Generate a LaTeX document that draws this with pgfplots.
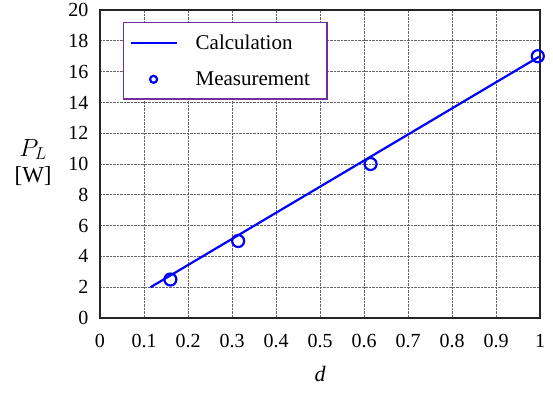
\documentclass[border=0pt]{standalone}
\usepackage{fontspec}
\setmainfont{Liberation Serif}
\usepackage{pgfplots}
\pgfplotsset{compat=1.18}
\definecolor{legpurple}{RGB}{112,48,160}
\pgfplotsset{
  linelegend/.style={legend image code/.code={\draw[##1] (0pt,0pt) -- (46pt,0pt);}},
  marklegend/.style={legend image code/.code={\draw[mark repeat=2,mark phase=2,##1,mark size=3.5pt] plot coordinates {(0pt,0pt) (23pt,0pt) (46pt,0pt)};}},
}
\begin{document}
\begin{tikzpicture}
\begin{axis}[
  scale only axis,
  width=440pt, height=308pt,
  xmin=0, xmax=1, ymin=0, ymax=20,
  xtick={0,0.1,...,1.0},
  xticklabels={0,0.1,0.2,0.3,0.4,0.5,0.6,0.7,0.8,0.9,1},
  ytick={0,2,...,20},
  yticklabels={0,2,4,6,8,10,12,14,16,18,20},
  tick style={draw=none},
  ticklabel style={font=\rmfamily\fontsize{20}{24}\selectfont},
  xticklabel style={yshift=-13pt},
  yticklabel style={xshift=-8pt},
  grid=major,
  grid style={densely dotted, gray!80!black, line width=0.8pt},
  axis line style={line width=1.6pt, black!85},
  xlabel={\fontsize{22}{26}\selectfont\itshape d},
  xlabel style={yshift=-11pt},
  ylabel={\fontsize{23}{26}\selectfont\begin{tabular}{c}$P_L$\\{[W]}\end{tabular}},
  ylabel style={rotate=-90, at={(ticklabel cs:0.5)}, anchor=center, xshift=-32pt},
  legend style={at={(0.052,0.961)}, anchor=north west, draw=legpurple, line width=1.2pt,
    font=\fontsize{21}{25}\selectfont, row sep=17pt, inner xsep=6pt, inner ysep=10pt,
    /tikz/every odd column/.append style={column sep=16pt}},
  legend cell align=left,
]
\addplot[blue, line width=2.2pt, linelegend] coordinates {(0.115,2) (1.0,17)};
\addlegendentry{Calculation}
\addplot[only marks, blue, mark=o, mark size=6pt, mark options={line width=2.2pt}, marklegend] coordinates {(0.16,2.5) (0.314,5) (0.615,10) (0.995,17)};
\addlegendentry{Measurement\hspace*{9pt}}
\end{axis}
\pgfresetboundingbox
\path (current axis.south west) ++(-100pt,-74pt) rectangle ++(553pt,392pt);
\end{tikzpicture}
\end{document}
